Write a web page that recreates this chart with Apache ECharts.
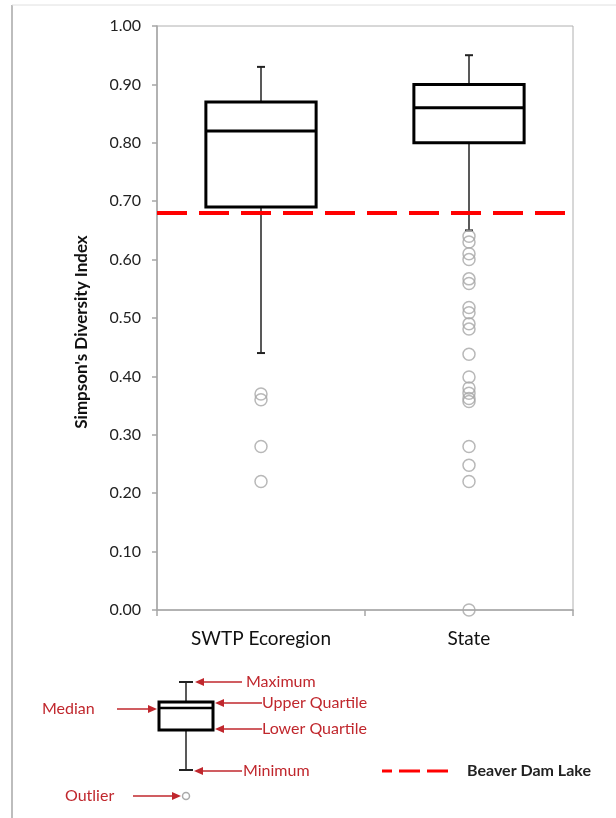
<!DOCTYPE html>
<html>
<head>
<meta charset="utf-8">
<style>html,body{margin:0;padding:0;background:#fff}#c{width:616px;height:818px}</style>
<script src="https://cdn.jsdelivr.net/npm/echarts@6/dist/echarts.min.js"></script>
</head>
<body>
<div id="c"></div>
<script>
// ---- data ----
const categories = ['SWTP Ecoregion', 'State'];
// [min, Q1, median, Q3, max]
const swtpBox = [0.44, 0.69, 0.82, 0.87, 0.93];
const stateBox = [0.65, 0.80, 0.86, 0.90, 0.95];
const swtpOutliers = [0.37, 0.36, 0.28, 0.22];
const stateOutliers = [0.64, 0.63, 0.61, 0.60, 0.567, 0.559, 0.518, 0.509, 0.49, 0.481, 0.438, 0.399, 0.38, 0.371, 0.362, 0.357, 0.28, 0.248, 0.22, 0.00];
const beaverDamLake = 0.684;
const yAxisTitle = "Simpson's Diversity Index";

const boxData = [[0].concat(swtpBox), [1].concat(stateBox)];
const outlierData = swtpOutliers.map(v => [0, v]).concat(stateOutliers.map(v => [1, v]));

const FONT = 'Lato, "Open Sans", sans-serif';
const RED_TXT = '#c0272d';

const chart = echarts.init(document.getElementById('c'), null, {renderer: 'canvas'});

function renderBox(params, api) {
  const x = api.value(0);
  const mn = api.coord([x, api.value(1)]);
  const q1 = api.coord([x, api.value(2)]);
  const md = api.coord([x, api.value(3)]);
  const q3 = api.coord([x, api.value(4)]);
  const mx = api.coord([x, api.value(5)]);
  const bw = api.size([1, 0])[0] * 0.53;
  const cx = mn[0];
  const cap = 4;
  const thin = {stroke: '#222', lineWidth: 1.5};
  const thick = {stroke: '#000', lineWidth: 3};
  return {
    type: 'group',
    children: [
      {type: 'line', shape: {x1: cx, y1: q3[1], x2: cx, y2: mx[1]}, style: thin},
      {type: 'line', shape: {x1: cx, y1: q1[1], x2: cx, y2: mn[1]}, style: thin},
      {type: 'line', shape: {x1: cx - cap, y1: mx[1], x2: cx + cap, y2: mx[1]}, style: {stroke: '#222', lineWidth: 2}},
      {type: 'line', shape: {x1: cx - cap, y1: mn[1], x2: cx + cap, y2: mn[1]}, style: {stroke: '#222', lineWidth: 2}},
      {type: 'rect', shape: {x: cx - bw / 2, y: q3[1], width: bw, height: q1[1] - q3[1]}, style: {fill: '#fff', stroke: '#000', lineWidth: 3}},
      {type: 'line', shape: {x1: cx - bw / 2, y1: md[1], x2: cx + bw / 2, y2: md[1]}, style: thick}
    ]
  };
}

function arrowLine(x1, x2, y) {
  const dir = x2 > x1 ? 1 : -1;
  const head = 9;
  return [
    {type: 'line', shape: {x1: x1, y1: y, x2: x2 - dir * head, y2: y}, style: {stroke: RED_TXT, lineWidth: 1.5}},
    {type: 'polygon', shape: {points: [[x2, y], [x2 - dir * head, y - 4], [x2 - dir * head, y + 4]]}, style: {fill: RED_TXT}}
  ];
}
function redText(x, y, t) {
  return {type: 'text', x: x, y: y, style: {text: t, fill: RED_TXT, font: '16px ' + FONT, textVerticalAlign: 'middle', textAlign: 'left'}};
}

const legendGraphics = [
  // outer frame
  {type: 'line', shape: {x1: 12, y1: 5, x2: 12, y2: 818}, style: {stroke: '#bdbdbd', lineWidth: 2}},
  {type: 'line', shape: {x1: 12, y1: 5, x2: 616, y2: 5}, style: {stroke: '#e0e0e0', lineWidth: 1}},
  // y axis title
  {type: 'text', x: 82, y: 332, rotation: Math.PI / 2,
   style: {text: yAxisTitle, fill: '#111', font: 'bold 17px ' + FONT, textAlign: 'center', textVerticalAlign: 'middle'}},
  // mini box plot
  {type: 'line', shape: {x1: 186, y1: 682, x2: 186, y2: 770}, style: {stroke: '#222', lineWidth: 1.5}},
  {type: 'line', shape: {x1: 179, y1: 682, x2: 193, y2: 682}, style: {stroke: '#222', lineWidth: 2}},
  {type: 'line', shape: {x1: 179, y1: 770, x2: 193, y2: 770}, style: {stroke: '#222', lineWidth: 2}},
  {type: 'rect', shape: {x: 159, y: 702, width: 54, height: 28}, style: {fill: '#fff', stroke: '#000', lineWidth: 3}},
  {type: 'line', shape: {x1: 159, y1: 708, x2: 213, y2: 708}, style: {stroke: '#000', lineWidth: 2.5}},
  {type: 'circle', shape: {cx: 186, cy: 796, r: 3.5}, style: {fill: '#fff', stroke: '#aaa', lineWidth: 1.5}},
  redText(246, 682, 'Maximum'),
  redText(262, 703, 'Upper Quartile'),
  redText(262, 729, 'Lower Quartile'),
  redText(243, 771, 'Minimum'),
  redText(42, 709, 'Median'),
  redText(65, 796, 'Outlier'),
  // Beaver Dam Lake legend
  {type: 'line', shape: {x1: 382, y1: 771, x2: 392, y2: 771}, style: {stroke: '#ff0000', lineWidth: 3}},
  {type: 'line', shape: {x1: 399, y1: 771, x2: 420, y2: 771}, style: {stroke: '#ff0000', lineWidth: 3}},
  {type: 'line', shape: {x1: 427, y1: 771, x2: 448, y2: 771}, style: {stroke: '#ff0000', lineWidth: 3}},
  {type: 'text', x: 467, y: 771, style: {text: 'Beaver Dam Lake', fill: '#222', font: 'bold 16px ' + FONT, textVerticalAlign: 'middle'}}
]
  .concat(arrowLine(242, 195, 682))
  .concat(arrowLine(262, 215, 703))
  .concat(arrowLine(262, 215, 729))
  .concat(arrowLine(242, 194, 771))
  .concat(arrowLine(117, 157, 709))
  .concat(arrowLine(133, 181, 796));

const option = {
  animation: false,
  backgroundColor: '#fff',
  grid: {left: 157, top: 26, right: 43, bottom: 208, show: true, borderColor: '#b0b0b0', borderWidth: 1, backgroundColor: 'transparent'},
  xAxis: {
    type: 'category',
    data: categories,
    boundaryGap: true,
    axisLine: {lineStyle: {color: '#a6a6a6', width: 1.5}},
    axisTick: {show: true, alignWithLabel: false, length: 6, lineStyle: {color: '#a6a6a6', width: 1.5}},
    axisLabel: {color: '#111', fontSize: 19, fontFamily: FONT, margin: 19},
    splitLine: {show: false}
  },
  yAxis: {
    type: 'value',
    min: 0, max: 1, interval: 0.1,
    axisLine: {show: true, lineStyle: {color: '#a6a6a6', width: 1.5}},
    axisTick: {show: true, length: 5, lineStyle: {color: '#a6a6a6', width: 1.5}},
    axisLabel: {color: '#222', fontSize: 16, fontFamily: FONT, margin: 16, formatter: v => v.toFixed(2)},
    splitLine: {show: false}
  },
  series: [
    {
      type: 'custom',
      renderItem: renderBox,
      data: boxData,
      encode: {x: 0, y: [1, 2, 3, 4, 5]},
      z: 2,
      markLine: {
        silent: true,
        symbol: ['none', 'none'],
        label: {show: false},
        lineStyle: {color: '#ff0000', width: 4, type: [30, 12]},
        data: [{yAxis: beaverDamLake}],
        z: 5
      }
    },
    {
      type: 'scatter',
      data: outlierData,
      symbol: 'circle',
      symbolSize: 12,
      itemStyle: {color: 'rgba(255,255,255,0)', borderColor: '#a6a6a6', borderWidth: 1.5},
      z: 3
    }
  ],
  graphic: legendGraphics
};
chart.setOption(option);
</script>
</body>
</html>
